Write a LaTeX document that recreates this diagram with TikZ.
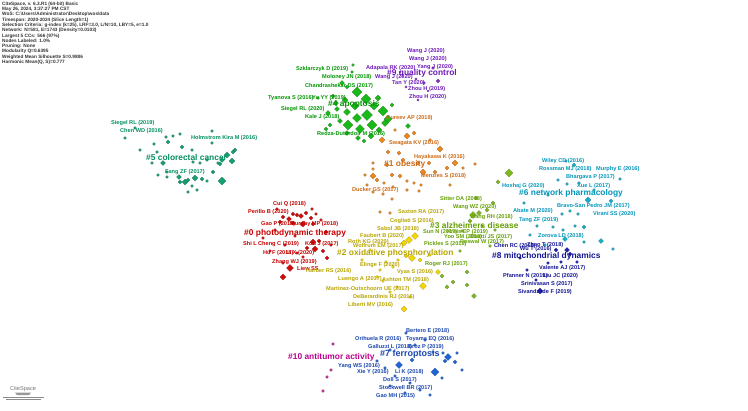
\documentclass[tikz,border=0pt]{standalone}
\usepackage{fontspec}
\setmainfont{Liberation Sans}
\usetikzlibrary{shapes.geometric}
\pgfdeclarelayer{blob}\pgfdeclarelayer{edgel}
\pgfsetlayers{blob,edgel,main}
\definecolor{qz}{RGB}{210,10,10}\definecolor{qzt}{RGB}{200,0,0}
\definecolor{qo}{RGB}{238,135,25}\definecolor{qot}{RGB}{205,105,20}
\definecolor{qy}{RGB}{245,215,0}\definecolor{qyt}{RGB}{185,165,0}
\definecolor{ql}{RGB}{125,185,30}\definecolor{qlt}{RGB}{100,160,0}
\definecolor{qg}{RGB}{25,185,25}\definecolor{qgt}{RGB}{0,150,0}
\definecolor{qt}{RGB}{20,160,110}\definecolor{qtt}{RGB}{0,145,95}
\definecolor{qc}{RGB}{20,175,200}\definecolor{qct}{RGB}{0,150,185}
\definecolor{qb}{RGB}{30,100,215}\definecolor{qbt}{RGB}{25,70,175}
\definecolor{qd}{RGB}{30,30,180}\definecolor{qdt}{RGB}{20,20,150}
\definecolor{qp}{RGB}{135,45,205}\definecolor{qpt}{RGB}{110,25,185}
\definecolor{qm}{RGB}{200,40,150}\definecolor{qmt}{RGB}{190,0,140}
\definecolor{qw}{RGB}{251,243,224}
\tikzset{
 lbl/.style={anchor=west, inner sep=0pt, font=\fontsize{5.6}{6}\selectfont\bfseries},
 clab/.style={anchor=west, inner sep=0pt, font=\fontsize{8.4}{9}\selectfont\bfseries},
 dia/.style={diamond, inner sep=0pt, minimum size=#1, line width=0.2pt},
 hdr/.style={anchor=north west, inner sep=0pt, align=left, font=\fontsize{4.75}{4.33}\selectfont\bfseries, text=black!80},
 blb/.style={opacity=0.15},
 edg/.style={line width=0.2pt, opacity=0.35}
}
\begin{document}
\begin{tikzpicture}[x=1pt,y=-1pt]
\useasboundingbox (0,0) rectangle (748,411);
\fill[white] (0,0) rectangle (748,411);
% ---------- background: watermark and cluster areas
\begin{pgfonlayer}{blob}
\node[font=\fontsize{140}{140}\selectfont, text=qw, anchor=base west, inner sep=0pt] (wmark) at (45,282) {CiteSpace};
\fill[qw] (40,335) rectangle (710,348);
\fill[qw] (40,378) rectangle (710,392);
\fill[qt,blb] plot[smooth cycle] coordinates {(100,118)(150,105)(215,112)(255,135)(258,175)(240,205)(195,212)(145,205)(110,180)(95,145)};
\fill[qt,blb] plot[smooth cycle] coordinates {(150,130)(200,125)(240,145)(235,185)(195,198)(155,185)};
\fill[qg,blb] plot[smooth cycle] coordinates {(300,70)(340,50)(380,60)(410,95)(420,135)(385,152)(340,148)(305,130)(290,100)};
\fill[qg,blb] plot[smooth cycle] coordinates {(330,85)(360,75)(395,105)(395,135)(355,145)(325,125)};
\fill[qp,blb] plot[smooth cycle] coordinates {(385,62)(420,48)(455,55)(465,80)(450,105)(420,110)(395,100)(380,80)};
\fill[qo,blb] plot[smooth cycle] coordinates {(350,125)(400,110)(460,125)(490,160)(480,200)(440,222)(390,225)(355,205)(340,165)};
\fill[qo,blb] plot[smooth cycle] coordinates {(370,135)(420,128)(470,155)(455,190)(405,200)(370,185)};
\fill[qz,blb] plot[smooth cycle] coordinates {(250,205)(290,192)(335,200)(350,235)(340,275)(305,292)(270,288)(248,260)(240,230)};
\fill[qz,blb] plot[smooth cycle] coordinates {(272,210)(320,208)(335,240)(315,270)(285,282)(268,250)};
\fill[qy,blb] plot[smooth cycle] coordinates {(345,235)(395,222)(445,235)(465,270)(450,305)(415,322)(375,315)(345,290)(335,260)};
\fill[qy,blb] plot[smooth cycle] coordinates {(380,235)(425,232)(445,270)(425,300)(395,300)(378,265)};
\fill[ql,blb] plot[smooth cycle] coordinates {(450,185)(490,160)(525,170)(525,210)(505,250)(490,290)(465,305)(440,290)(430,250)(435,210)};
\fill[qc,blb] plot[smooth cycle] coordinates {(505,170)(560,148)(630,160)(660,200)(640,245)(600,262)(545,258)(510,235)(495,200)};
\fill[qc,blb] plot[smooth cycle] coordinates {(540,200)(590,185)(620,215)(610,250)(565,258)(540,235)};
\fill[qd,blb] plot[smooth cycle] coordinates {(495,245)(545,232)(595,245)(605,275)(575,300)(535,305)(505,290)(488,268)};
\fill[qb,blb] plot[smooth cycle] coordinates {(365,335)(410,320)(455,330)(475,360)(462,392)(420,405)(380,400)(360,370)};
\fill[qb,blb] plot[smooth cycle] coordinates {(390,350)(430,340)(460,360)(445,385)(405,385)};
\fill[qm,blb] plot[smooth cycle] coordinates {(295,340)(330,325)(365,335)(375,370)(355,400)(320,408)(295,392)(282,365)};
\end{pgfonlayer}
% ---------- header
\node[hdr] (hdr) at (2,2.2) {CiteSpace, v. 6.3.R1 (64-bit) Basic\\
May 26, 2024, 3:37:27 PM CST\\
WoS: C:\textbackslash Users\textbackslash Administrator\textbackslash Desktop\textbackslash wos\textbackslash data\\
Timespan: 2020-2024 (Slice Length=1)\\
Selection Criteria: g-index (k=25), LRF=3.0, L/N=10, LBY=5, e=1.0\\
Network: N=581, E=1743 (Density=0.0103)\\
Largest 5 CCs: 566 (97\%)\\
Nodes Labeled: 1.0\%\\
Pruning: None\\
Modularity Q=0.6395\\
Weighted Mean Silhouette S=0.9886\\
Harmonic Mean(Q, S)=0.777};
% ---------- logo
\node[font=\fontsize{5.6}{6}\selectfont, text=black!55, inner sep=0pt] (logo) at (23,389) {CiteSpace};
\fill[black!40] (15,392.6) -- (31,392.6) -- (29,395.2) -- (17,395.2) -- cycle;
\draw[black!45, line width=0.5pt] (3,397) -- (44,397);
\draw[black!45, line width=0.5pt] (6,399.6) -- (41,399.6);
% ---------- diamonds
\newcommand\dias[3]{% prefix, fill, list
 \foreach \x/\y/\s [count=\i] in {#3} \node[dia=\s, fill=#2, draw=#2!65!black] (#1-\i) at (\x,\y) {};
}
\dias{d5}{qt}{222/181/8, 166/137/3, 173/136/3, 180/134/3, 168/142/4, 154/144/3, 182/147/4, 212/131/3, 212/143/3, 157/152/3, 192/150/3, 235/150/4, 227/155/6, 222/160/5, 232/161/6, 163/163/5, 152/163/3, 193/162/3, 200/163/3, 207/160/3, 220/164/4, 167/172/3, 213/172/4, 158/175/3, 167/177/3, 179/177/5, 180/182/4, 185/182/6, 188/180/4, 195/178/6, 202/179/4, 207/181/3, 192/186/3, 197/190/3, 188/192/3, 233/152/4, 218/163/3, 135/128/3, 125/138/3, 140/150/3}
\dias{d4}{qg}{367/115/11, 353/65/3, 352/72/3, 342/83/5, 347/87/4, 357/92/10, 366/99/10, 374/106/8, 383/111/10, 388/119/8, 337/109/5, 328/113/5, 347/112/7, 340/121/5, 348/125/10, 357/118/9, 372/125/10, 360/129/9, 330/125/4, 326/129/4, 379/130/6, 385/123/7, 358/138/5, 364/141/4, 408/126/5, 347/133/5, 371/136/6, 318/98/3, 333/96/4, 345/100/6, 355/106/8, 336/103/5, 392/105/4, 378/98/6}
\dias{d9}{qp}{438/81/4, 424/83/3, 406/87/2.5, 418/100/2.5, 433/68/3, 416/79/2.5, 428/91/2, 400/72/2}
\dias{d1}{qo}{407/136/6, 382/140/6, 414/133/4, 388/152/4, 399/153/4, 373/163/3, 373/169/3, 387/165/4, 403/160/4, 418/163/4, 429/163/4, 440/149/6, 455/163/6, 463/168/3, 475/164/3, 423/172/6, 435/172/4, 447/168/4, 373/176/6, 365/175/3, 377/180/4, 384/183/3, 392/175/4, 400/176/4, 407/181/3, 414/183/3, 393/187/3, 407/190/3, 419/191/3, 421/185/3, 367/185/3, 383/194/3, 392/199/3, 373/192/3, 380/212/3, 390/213/3, 395/130/3, 430/140/3, 450/185/3}
\dias{d0}{qz}{290/268/7, 277/209/3, 312/209/3, 297/215/4, 283/217/4, 289/219/5, 293/214/4, 301/216/5, 306/213/4, 311/218/4, 316/214/3, 280/222/4, 293/223/4, 303/224/6, 313/224/4, 321/220/3, 275/230/3, 263/238/3, 313/242/6, 319/241/4, 307/248/4, 315/249/6, 323/251/4, 327/258/4, 303/257/3, 297/253/3, 283/263/3, 283/277/6, 331/245/3, 295/236/3, 285/245/3, 326/232/4, 270/251/3}
\dias{d2}{qy}{409/240/7, 415/236/7, 404/243/6, 412/258/7, 406/256/4, 398/260/3, 386/262/3, 393/267/3, 423/286/7, 404/309/6, 438/272/5, 377/277/3, 383/281/3, 397/287/3, 410/297/3, 390/292/3, 380/270/3, 420/260/4, 430/255/3, 362/260/3, 370/250/3}
\dias{d3}{ql}{509/173/8, 476/198/4, 498/182/4, 493/203/4, 474/296/5, 467/285/4, 453/282/4, 467/272/4, 473/215/7, 479/213/5, 470/221/4, 487/210/4, 482/226/3, 462/231/3, 495/230/3, 447/287/4, 442/276/4, 490/246/3, 460/251/3}
\dias{d6}{qc}{588/200/6, 558/180/3, 567/184/3, 579/183/3, 620/179/3, 611/201/4, 574/165/4, 566/161/3, 524/203/3, 562/214/3, 570/211/3, 578/214/3, 537/226/3, 553/227/3, 563/230/3, 575/226/3, 584/227/4, 565/239/5, 584/242/3, 601/241/5, 613/249/3, 545/245/3, 530/235/3, 594/190/3, 548/195/3}
\dias{d8}{qd}{567/250/5, 570/254/4, 561/262/3, 577/262/3, 548/263/3, 527/270/3, 540/291/6, 556/250/4, 520/258/3, 536/280/3}
\dias{d7}{qb}{435/372/8, 399/365/7, 448/357/7, 445/361/4, 457/353/3, 443/353/3, 455/362/4, 442/378/3, 377/361/3, 433/352/3, 406/333/3, 415/345/3, 425/340/3, 390/350/3, 395/376/3, 410/383/3, 420/390/3, 390/386/3, 405/393/3, 385/368/3, 462/370/3, 430/395/3, 412/360/4}
\dias{d10}{qm}{333/344/3, 331/370/3, 327/377/3, 323/391/3}
% ---------- faint edges to each cluster's hub
\begin{pgfonlayer}{edgel}
\foreach \p/\c/\n in {d5/qt/40, d4/qg/34, d9/qp/8, d1/qo/39, d0/qz/33, d2/qy/21, d3/ql/19, d6/qc/25, d8/qd/10, d7/qb/23, d10/qm/4}
  \foreach \i in {2,...,\n} \draw[edg, \c] (\p-\i) -- (\p-1);
\end{pgfonlayer}
% ---------- node labels
\foreach \x/\y/\t [count=\i] in {407/51/Wang J (2020), 409/59/Wang J (2020), 366/68/Adapala RK (2020), 417/67/Yang J (2020), 375/77/Wang J (2020), 392/83/Tan Y (2020), 408/89/Zhou H (2019), 409/97/Zhou H (2020)}
  \node[lbl, text=qpt] (l9-\i) at (\x,\y) {\t};
\foreach \x/\y/\t [count=\i] in {296/69/Szklarczyk D (2019), 322/77/Moloney JN (2018), 305/86/Chandrashekar DS (2017), 268/98/Tyanova S (2016), 312/98/Yu YY (2019), 281/109/Siegel RL (2020), 305/117/Kale J (2018), 317/134/Redza-Dutordoir M (2016)}
  \node[lbl, text=qgt] (l4-\i) at (\x,\y) {\t};
\foreach \x/\y/\t [count=\i] in {386/118/Gureev AP (2019), 389/143/Swagata KV (2016), 414/157/Hayakawa K (2016), 421/176/Menzies S (2018), 352/190/Ducker GS (2017)}
  \node[lbl, text=qot] (l1-\i) at (\x,\y) {\t};
\foreach \x/\y/\t [count=\i] in {111/123/Siegel RL (2019), 120/131/Chen WD (2016), 191/138/Holmstrom Kira M (2016), 165/172/Fang ZF (2017)}
  \node[lbl, text=qtt] (l5-\i) at (\x,\y) {\t};
\foreach \x/\y/\t [count=\i] in {273/204/Cui Q (2018), 248/212/Perillo B (2020), 261/224/Gao P (2019), 290/224/Murphy MP (2018), 243/244/Shi L, 258/244/Cheng C (2019), 305/244/Kou J (2017), 263/253/Hu F (2018), 286/253/Li X (2020), 272/262/Zhang WJ (2019), 297/269/Liew SS}
  \node[lbl, text=qzt] (l0-\i) at (\x,\y) {\t};
\foreach \x/\y/\t [count=\i] in {398/212/Saxton RA (2017), 390/221/Cogliati S (2016), 377/229/Sabol JB (2018), 360/236/Faubert B (2020), 348/242/Roth KG (2020), 353/246/Wolfrum EM (2017), 360/265/Elinge F (2020), 306/271/Harber RS (2016), 397/272/Vyas S (2016), 338/279/Luengo A (2017), 382/280/Ashton TM (2018), 326/289/Martinez-Outschoorn UE (2017), 353/297/DeBerardinis RJ (2016), 348/305/Liberti MV (2016)}
  \node[lbl, text=qyt] (l2-\i) at (\x,\y) {\t};
\foreach \x/\y/\t [count=\i] in {440/199/Sitter DA (2018), 453/207/Wang WZ (2020), 470/217/Wang RH (2018), 423/232/Sun N (2017), 447/232/Kreis EP (2019), 444/237/Yoo SM (2018), 470/237/Bhatti JS (2017), 424/244/Pickles S (2018), 460/242/Poswal W (2017), 425/264/Roger RJ (2017)}
  \node[lbl, text=qlt] (l3-\i) at (\x,\y) {\t};
\foreach \x/\y/\t [count=\i] in {542/161/Wiley CD (2016), 539/169/Rossman MJ (2018), 596/169/Murphy E (2016), 566/177/Bhargava P (2017), 577/186/Xue L (2017), 502/186/Hoxhaj G (2020), 557/206/Bravo-San Pedro JM (2017), 513/211/Abate M (2020), 593/214/Virani SS (2020), 519/220/Tang ZF (2019), 538/236/Zorova LD (2018)}
  \node[lbl, text=qct] (l6-\i) at (\x,\y) {\t};
\foreach \x/\y/\t [count=\i] in {494/246/Chen RC (2018), 527/245/Zhao T (2018), 520/249/Wu T (2016), 539/268/Valente AJ (2017), 503/276/Pfanner N (2019), 543/276/Liu JC (2020), 521/284/Srinivasan S (2017), 518/292/Sivandzade F (2019)}
  \node[lbl, text=qdt] (l8-\i) at (\x,\y) {\t};
\foreach \x/\y/\t [count=\i] in {406/331/Bertero E (2018), 355/339/Orihuela R (2016), 406/339/Toyama EQ (2016), 368/347/Galluzzi L (2018), 408/347/Broz P (2019), 338/366/Yang WS (2016), 357/372/Xie Y (2016), 395/372/Li K (2018), 383/380/Doll S (2017), 379/388/Stockwell BR (2017), 376/396/Gao MH (2015)}
  \node[lbl, text=qbt] (l7-\i) at (\x,\y) {\t};
% ---------- cluster labels
\node[clab, text=qzt] (k0) at (244,233) {\#0 photodynamic therapy};
\node[clab, text=qot] (k1) at (384,164) {\#1 obesity};
\node[clab, text=qyt] (k2) at (337,253) {\#2 oxidative phosphorylation};
\node[clab, text=qlt] (k3) at (430,226) {\#3 alzheimers disease};
\node[clab, text=qgt] (k4) at (328,104) {\#4 apoptosis};
\node[clab, text=qtt] (k5) at (146,158) {\#5 colorectal cancer};
\node[clab, text=qct] (k6) at (519,193) {\#6 network pharmacology};
\node[clab, text=qbt, font=\fontsize{9}{10}\selectfont\bfseries] (k7) at (380,354) {\#7 ferroptosis};
\node[clab, text=qdt] (k8) at (492,256) {\#8 mitochondrial dynamics};
\node[clab, text=qpt] (k9) at (387,73) {\#9 quality control};
\node[clab, text=qmt] (k10) at (288,357) {\#10 antitumor activity};
\end{tikzpicture}
\end{document}
